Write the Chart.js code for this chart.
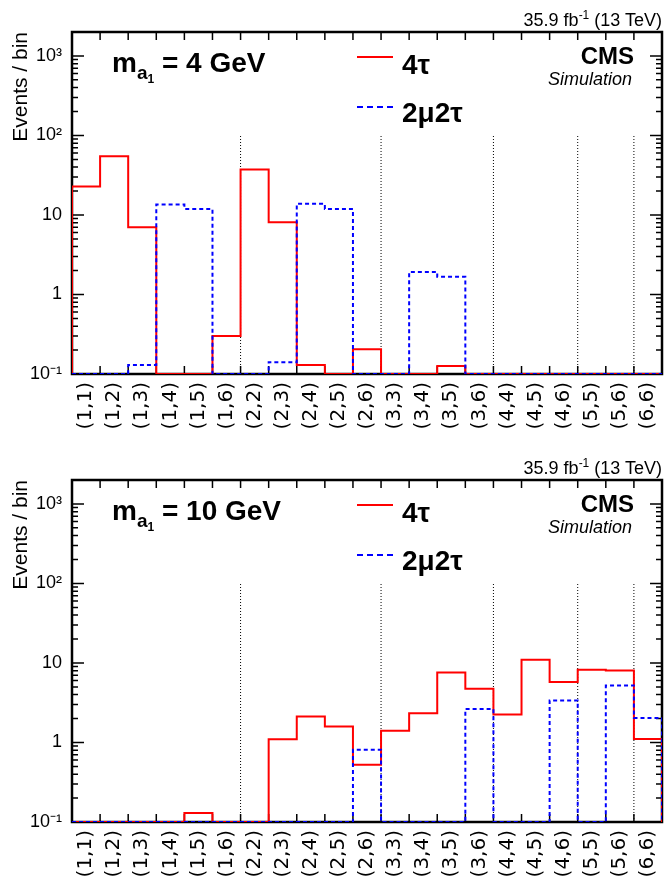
<!DOCTYPE html>
<html lang="en">
<head>
<meta charset="UTF-8">
<title>Events per bin, 4tau vs 2mu2tau</title>
<script src="https://cdn.jsdelivr.net/npm/chart.js"></script>
<style>
    body { margin: 0; width: 665px; height: 884px; overflow: hidden; background: #fff;
           font-family: "Liberation Sans", Arial, sans-serif; color: #000; }
    .panel { position: absolute; left: 0; width: 665px; height: 448px; }
    .panel canvas { position: absolute; left: 0; top: 0; }
    .txt { position: absolute; line-height: 1; white-space: nowrap; }
    .lumi { right: 3px; top: 11px; font-size: 18px; }
    .lumi sup { font-size: 12px; position: relative; top: -2px; vertical-align: top; }
    .mass { left: 112px; top: 49px; font-size: 28px; font-weight: bold; }
    .mass .s1 { font-size: 19px; position: relative; top: 7px; }
    .mass .s2 { font-size: 12px; position: relative; top: 11px; }
    .cms { right: 31px; top: 44px; font-size: 24px; font-weight: bold; }
    .sim { right: 33px; top: 70px; font-size: 18px; font-style: italic; }
    .leg { left: 402px; font-size: 28px; font-weight: bold; }
    .swatch { position: absolute; left: 357px; width: 36px; height: 0; }
</style>
</head>
<body>

<div class="panel" style="top:0px">
    <canvas id="top" width="665" height="448"></canvas>
    <div class="txt lumi">35.9 fb<sup>-1</sup> (13 TeV)</div>
    <div class="txt mass">m<span class="s1">a</span><span class="s2">1</span> = 4 GeV</div>
    <div class="txt cms">CMS</div>
    <div class="txt sim">Simulation</div>
    <div class="swatch" style="top:56px; border-top:2px solid #ff0000"></div>
    <div class="txt leg" style="top:51px">4τ</div>
    <div class="swatch" style="top:106px; border-top:2px dashed #0000ff"></div>
    <div class="txt leg" style="top:99px">2μ2τ</div>
</div>

<div class="panel" style="top:448px">
    <canvas id="bottom" width="665" height="448"></canvas>
    <div class="txt lumi">35.9 fb<sup>-1</sup> (13 TeV)</div>
    <div class="txt mass">m<span class="s1">a</span><span class="s2">1</span> = 10 GeV</div>
    <div class="txt cms">CMS</div>
    <div class="txt sim">Simulation</div>
    <div class="swatch" style="top:56px; border-top:2px solid #ff0000"></div>
    <div class="txt leg" style="top:51px">4τ</div>
    <div class="swatch" style="top:106px; border-top:2px dashed #0000ff"></div>
    <div class="txt leg" style="top:99px">2μ2τ</div>
</div>

<script>
// bins: (i,j) pairs
const binLabels = ['(1,1)','(1,2)','(1,3)','(1,4)','(1,5)','(1,6)','(2,2)','(2,3)','(2,4)','(2,5)','(2,6)',
                   '(3,3)','(3,4)','(3,5)','(3,6)','(4,4)','(4,5)','(4,6)','(5,5)','(5,6)','(6,6)'];

// m_a1 = 4 GeV
const fourTau4 = [22.8, 54.7, 7.0, 0, 0, 0.30, 37.4, 8.1, 0.13, 0, 0.205, 0, 0, 0.126, 0, 0, 0, 0, 0, 0, 0];
const twoMu4   = [0, 0, 0.13, 13.5, 11.9, 0, 0, 0.141, 13.8, 11.9, 0, 0, 1.92, 1.67, 0, 0, 0, 0, 0, 0, 0];

// m_a1 = 10 GeV
const fourTau10 = [0, 0, 0, 0, 0.13, 0, 0, 1.10, 2.12, 1.59, 0.524, 1.40, 2.34, 7.6, 4.73, 2.25, 11.0, 5.75, 8.2, 8.05, 1.11];
const twoMu10   = [0, 0, 0, 0, 0, 0, 0, 0, 0, 0, 0.81, 0, 0, 0, 2.63, 0, 0, 3.38, 0, 5.21, 2.03];

// bin edges where the first index changes
const dividerEdges = [6, 11, 15, 18, 20];
const dividerTop = 100;

const yTickValues = [0.1, 1, 10, 100, 1000];
const yTickLabels = ['10⁻¹', '1', '10', '10²', '10³'];
const Y_MIN = 0.1, Y_MAX = 2000;

// histogram outline points (bin left edges + closing edge)
function stepPoints(values) {
    const pts = [{x: 0, y: Y_MIN}];
    values.forEach((v, i) => pts.push({x: i, y: Math.max(v, Y_MIN)}));
    const last = Math.max(values[values.length - 1], Y_MIN);
    pts.push({x: values.length, y: last});
    pts.push({x: values.length, y: Y_MIN});
    return pts;
}

const rootFrame = {
    id: 'rootFrame',
    beforeDatasetsDraw(chart) {
        const {ctx, chartArea: a, scales} = chart;
        const y = scales.y, x = scales.x;
        ctx.save();
        ctx.strokeStyle = '#000';
        ctx.lineWidth = 1.5;
        ctx.beginPath();
        // log ticks: major at decades, minor at 2..9
        for (let d = -1; d <= 3; d++) {
            for (let k = 1; k <= 9; k++) {
                const v = k * Math.pow(10, d);
                if (v > Y_MAX) continue;
                const p = y.getPixelForValue(v);
                const len = k === 1 ? 12 : 6;
                ctx.moveTo(a.left, p); ctx.lineTo(a.left + len, p);
                ctx.moveTo(a.right, p); ctx.lineTo(a.right - len, p);
            }
        }
        for (let e = 1; e < binLabels.length; e++) {
            const p = x.getPixelForValue(e);
            ctx.moveTo(p, a.bottom); ctx.lineTo(p, a.bottom - 8);
            ctx.moveTo(p, a.top); ctx.lineTo(p, a.top + 8);
        }
        ctx.stroke();
        ctx.lineWidth = 2.5;
        ctx.strokeRect(a.left, a.top, a.right - a.left, a.bottom - a.top);

        // y title, aligned to the top of the frame
        ctx.fillStyle = '#000';
        ctx.font = '21px "Liberation Sans", Arial, sans-serif';
        ctx.translate(27, a.top);
        ctx.rotate(-Math.PI / 2);
        ctx.textAlign = 'right';
        ctx.textBaseline = 'alphabetic';
        ctx.fillText('Events / bin', 0, 0);
        ctx.restore();
    }
};

function makePanel(id, red, blue) {
    const dividers = dividerEdges.flatMap(e => [{x: e, y: Y_MIN}, {x: e, y: dividerTop}, {x: e, y: null}]);
    new Chart(document.getElementById(id), {
        type: 'line',
        data: {
            datasets: [
                {
                    label: '2μ2τ', data: stepPoints(blue), xAxisID: 'x', order: 1,
                    borderColor: '#0000ff', borderWidth: 2, borderDash: [4, 3], stepped: 'before',
                    pointRadius: 0, fill: false, borderJoinStyle: 'miter'
                },
                {
                    label: '4τ', data: stepPoints(red), xAxisID: 'x', order: 2,
                    borderColor: '#ff0000', borderWidth: 2, stepped: 'before',
                    pointRadius: 0, fill: false, borderJoinStyle: 'miter'
                },
                {
                    label: 'div', data: dividers, xAxisID: 'x', order: 3,
                    borderColor: '#000', borderWidth: 1, borderDash: [1, 2],
                    pointRadius: 0, fill: false, spanGaps: false
                }
            ]
        },
        options: {
            responsive: false,
            animation: false,
            events: [],
            layout: { padding: { top: 32, right: 3, left: 0, bottom: 0 } },
            plugins: { legend: { display: false }, tooltip: { enabled: false } },
            scales: {
                x: { type: 'linear', min: 0, max: binLabels.length, display: false },
                xl: {
                    type: 'category', labels: binLabels, offset: true, position: 'bottom',
                    grid: { display: false, drawTicks: false }, border: { display: false },
                    ticks: {
                        autoSkip: false, minRotation: 90, maxRotation: 90, padding: 8, color: '#000',
                        font: { family: '"DejaVu Sans", sans-serif', size: 20 }
                    },
                    afterFit: s => {
                        s.height = 448 - 374;
                        s.paddingLeft = 0; s.paddingRight = 0;
                    }
                },
                y: {
                    type: 'logarithmic', min: Y_MIN, max: Y_MAX,
                    grid: { display: false, drawTicks: false }, border: { display: false },
                    afterBuildTicks: s => { s.ticks = yTickValues.map(v => ({value: v})); },
                    ticks: {
                        autoSkip: false, padding: 10, color: '#000',
                        font: { family: '"Liberation Sans", Arial, sans-serif', size: 18 },
                        callback: v => yTickLabels[yTickValues.indexOf(v)]
                    },
                    afterFit: s => {
                        s.width = 72;
                        s.paddingTop = 0; s.paddingBottom = 0;
                    }
                }
            }
        },
        plugins: [rootFrame]
    });
}

makePanel('top', fourTau4, twoMu4);
makePanel('bottom', fourTau10, twoMu10);
</script>
</body>
</html>
